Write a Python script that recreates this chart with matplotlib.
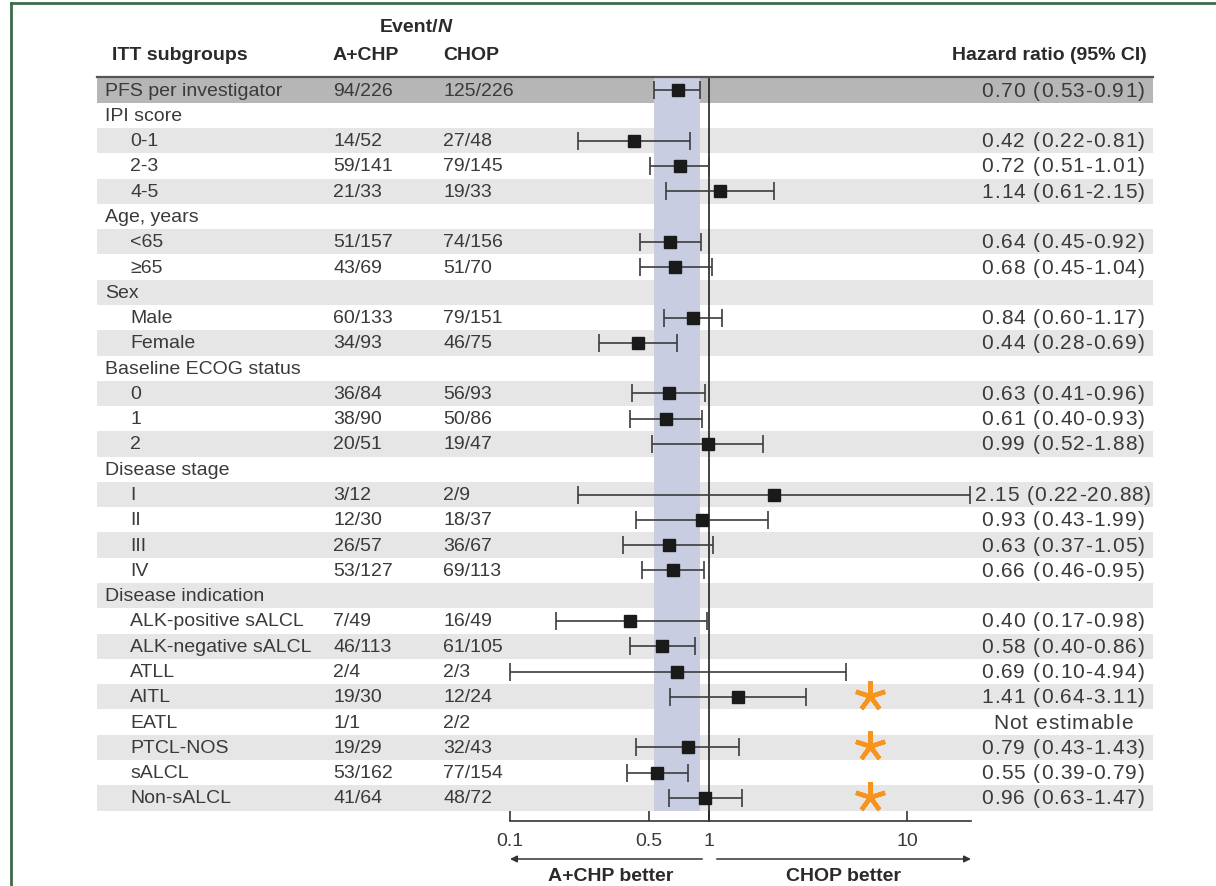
import numpy as np
import matplotlib.pyplot as plt
from matplotlib.lines import Line2D
from matplotlib.transforms import blended_transform_factory, offset_copy
from matplotlib.textpath import TextToPath
from matplotlib.font_manager import FontProperties

plt.rcParams["font.family"] = ["Liberation Sans", "DejaVu Sans"]

# subgroup table
labels = ["PFS per investigator", "IPI score", "0-1", "2-3", "4-5",
          "Age, years", "<65", "≥65", "Sex", "Male", "Female",
          "Baseline ECOG status", "0", "1", "2", "Disease stage",
          "I", "II", "III", "IV", "Disease indication",
          "ALK-positive sALCL", "ALK-negative sALCL", "ATLL", "AITL", "EATL",
          "PTCL-NOS", "sALCL", "Non-sALCL"]
is_group = [True, True, False, False, False,
            True, False, False, True, False, False,
            True, False, False, False, True,
            False, False, False, False, True,
            False, False, False, False, False,
            False, False, False]
events_achp = ["94/226", "", "14/52", "59/141", "21/33",
               "", "51/157", "43/69", "", "60/133", "34/93",
               "", "36/84", "38/90", "20/51", "",
               "3/12", "12/30", "26/57", "53/127", "",
               "7/49", "46/113", "2/4", "19/30", "1/1",
               "19/29", "53/162", "41/64"]
events_chop = ["125/226", "", "27/48", "79/145", "19/33",
               "", "74/156", "51/70", "", "79/151", "46/75",
               "", "56/93", "50/86", "19/47", "",
               "2/9", "18/37", "36/67", "69/113", "",
               "16/49", "61/105", "2/3", "12/24", "2/2",
               "32/43", "77/154", "48/72"]
nan = np.nan
hr = [0.70, nan, 0.42, 0.72, 1.14,
      nan, 0.64, 0.68, nan, 0.84, 0.44,
      nan, 0.63, 0.61, 0.99, nan,
      2.15, 0.93, 0.63, 0.66, nan,
      0.40, 0.58, 0.69, 1.41, nan,
      0.79, 0.55, 0.96]
ci_lo = [0.53, nan, 0.22, 0.51, 0.61,
         nan, 0.45, 0.45, nan, 0.60, 0.28,
         nan, 0.41, 0.40, 0.52, nan,
         0.22, 0.43, 0.37, 0.46, nan,
         0.17, 0.40, 0.10, 0.64, nan,
         0.43, 0.39, 0.63]
ci_hi = [0.91, nan, 0.81, 1.01, 2.15,
         nan, 0.92, 1.04, nan, 1.17, 0.69,
         nan, 0.96, 0.93, 1.88, nan,
         20.88, 1.99, 1.05, 0.95, nan,
         0.98, 0.86, 4.94, 3.11, nan,
         1.43, 0.79, 1.47]
flagged = ["AITL", "PTCL-NOS", "Non-sALCL"]
xticks = [0.1, 0.5, 1, 10]
xtick_labels = ["0.1", "0.5", "1", "10"]

W, H = 1216, 887
fig = plt.figure(figsize=(W / 100, H / 100), dpi=100)

# axes spans the table band; log x so that 0.1 and 1 land on the grid
x_left, x_right = 97, 1153
y_top, y_bot = 78.4, 811.6
ax = fig.add_axes([x_left / W, 1 - y_bot / H, (x_right - x_left) / W, (y_bot - y_top) / H])
px1, dec = 708.5, 198.5
ax.set_xscale("log")
ax.set_xlim(10 ** ((x_left - px1) / dec), 10 ** ((x_right - px1) / dec))
n = len(labels)
ax.set_ylim(n - 0.5, -0.5)

txt = "#3a3a3a"
fs = 14
tr = blended_transform_factory(ax.transAxes, ax.transData)

# the HR column is set slightly larger with a touch of letter spacing
ttp = TextToPath()
hr_prop = FontProperties(family="Liberation Sans", size=15)


def spaced_text(x, y, s, track=0.7):
    widths = [ttp.get_text_width_height_descent(c, hr_prop, ismath=False)[0] for c in s]
    total = sum(widths) + track * (len(s) - 1)
    pos = -total / 2
    for c, w in zip(s, widths):
        ax.text(x, y, c, transform=offset_copy(tr, fig=fig, x=pos, units="points"),
                ha="left", va="center", fontproperties=hr_prop, color=txt)
        pos += w + track


# row shading
for i in range(n):
    if i == 0:
        ax.axhspan(i - 0.5, i + 0.5, color="#b6b6b6", lw=0, zorder=0)
    elif i % 2 == 0:
        ax.axhspan(i - 0.5, i + 0.5, color="#e6e6e6", lw=0, zorder=0)
ax.axhline(-0.5, color="#555555", lw=1.6, clip_on=False, zorder=3)

# band for overall CI and line of no effect
ax.axvspan(ci_lo[0], ci_hi[0], color="#c9cde2", lw=0, zorder=1)
ax.plot([1, 1], [-0.5, n - 0.5 + 0.42], color="#222222", lw=1.2, clip_on=False, zorder=2)

y = np.arange(n)
hr_a = np.array(hr)
lo_a = np.array(ci_lo)
hi_a = np.array(ci_hi)
ok = ~np.isnan(hr_a)
ax.errorbar(hr_a[ok], y[ok], xerr=[hr_a[ok] - lo_a[ok], hi_a[ok] - hr_a[ok]],
            fmt="s", color="#1a1a1a", ecolor="#3c3c3c", elinewidth=1.2,
            capsize=6.5, capthick=1.2, markersize=8, zorder=4)

for i, lab in enumerate(labels):
    ax.text(0.0076 if is_group[i] else 0.0313, i, lab, transform=tr,
            ha="left", va="center", fontsize=fs, color=txt)
    ax.text(0.2235, i, events_achp[i], transform=tr, ha="left", va="center",
            fontsize=fs, color=txt)
    ax.text(0.3277, i, events_chop[i], transform=tr, ha="left", va="center",
            fontsize=fs, color=txt)
    if ok[i]:
        spaced_text(0.9148, i, f"{hr[i]:.2f} ({ci_lo[i]:.2f}-{ci_hi[i]:.2f})")
    elif events_achp[i]:
        spaced_text(0.9148, i, "Not estimable")
    if lab in flagged:
        ax.plot(0.732, i - 0.05, marker=(5, 2, 0), markersize=22, mew=3.2,
                color="#f7941d", transform=tr, clip_on=False, zorder=5)

# x axis below the table
for side in ["top", "left", "right"]:
    ax.spines[side].set_visible(False)
ax.spines["bottom"].set_position(("outward", 7.5))
ax.spines["bottom"].set_bounds(0.1, 21)
ax.spines["bottom"].set_color("#333333")
ax.spines["bottom"].set_linewidth(1.2)
ax.set_xticks(xticks)
ax.set_xticklabels(xtick_labels)
ax.xaxis.set_minor_locator(plt.NullLocator())
ax.tick_params(axis="x", direction="in", length=7, width=1.2, color="#333333",
               labelsize=fs, labelcolor=txt, pad=8)
ax.set_yticks([])
ax.set_facecolor("none")

arrow = dict(arrowstyle="-|>", color="#333333", lw=1.1, mutation_scale=10, shrinkA=0, shrinkB=0)
bt = blended_transform_factory(ax.transData, ax.transAxes)
ax.annotate("", xy=(0.1, -0.066), xytext=(0.93, -0.066), xycoords=bt, textcoords=bt, arrowprops=arrow)
ax.annotate("", xy=(21, -0.066), xytext=(1.1, -0.066), xycoords=bt, textcoords=bt, arrowprops=arrow)
ax.text(0.32, -0.089, "A+CHP better", transform=bt, ha="center", va="center",
        fontsize=fs, fontweight="bold", color="#2a2a2a")
ax.text(4.8, -0.089, "CHOP better", transform=bt, ha="center", va="center",
        fontsize=fs, fontweight="bold", color="#2a2a2a")

# column headers
hc = "#2a2a2a"
fig.text(438 / W, 1 - 28 / H, "Event/", ha="right", va="center", fontsize=fs,
         fontweight="bold", color=hc)
fig.text(438 / W, 1 - 28 / H, "N", ha="left", va="center", fontsize=fs,
         fontweight="bold", fontstyle="italic", color=hc)
fig.text(112 / W, 1 - 55 / H, "ITT subgroups", ha="left", va="center", fontsize=fs,
         fontweight="bold", color=hc)
fig.text(333 / W, 1 - 55 / H, "A+CHP", ha="left", va="center", fontsize=fs,
         fontweight="bold", color=hc)
fig.text(443 / W, 1 - 55 / H, "CHOP", ha="left", va="center", fontsize=fs,
         fontweight="bold", color=hc)
fig.text(1147 / W, 1 - 55 / H, "Hazard ratio (95% CI)", ha="right", va="center",
         fontsize=fs, fontweight="bold", color=hc)

# frame
frame = "#3b6b4a"
fig.add_artist(Line2D([11 / W, 1], [1 - 4 / H, 1 - 4 / H], color=frame, lw=2, transform=fig.transFigure))
fig.add_artist(Line2D([11 / W, 11 / W], [0, 1 - 4 / H], color=frame, lw=2, transform=fig.transFigure))

fig.savefig("out.png", dpi=100)
